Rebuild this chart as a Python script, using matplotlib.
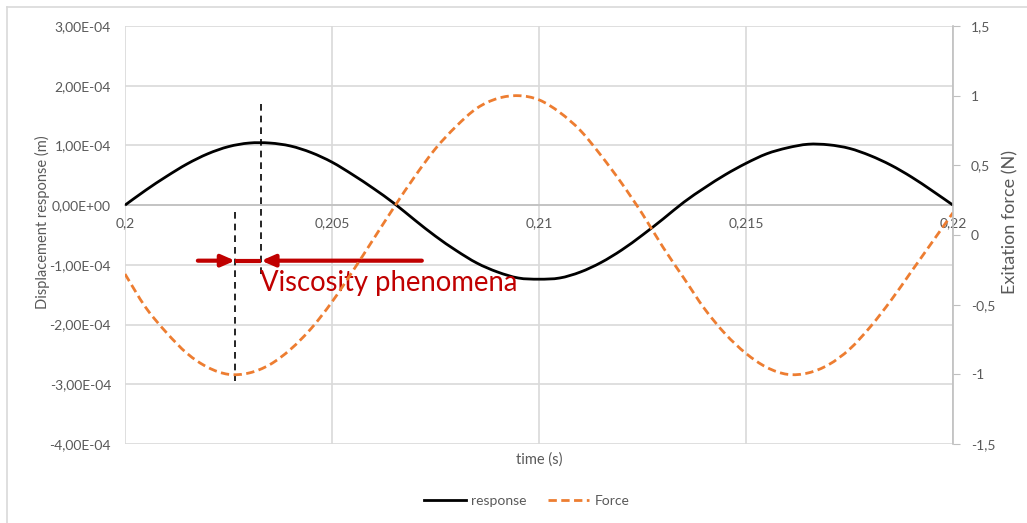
import numpy as np
import matplotlib.pyplot as plt
from matplotlib.lines import Line2D
from matplotlib.path import Path
from matplotlib.patches import PathPatch

plt.rcParams['font.family'] = ['Lato', 'DejaVu Sans']

# sampled every 0.5 ms between 0.2 s and 0.22 s
time = [0.2 + 0.0005 * k for k in range(41)]
response = [0.00, 0.25, 0.48, 0.69, 0.86, 0.98, 1.04, 1.04, 0.99, 0.88,
            0.72, 0.51, 0.28, 0.03, -0.25, -0.52, -0.76, -0.97, -1.12, -1.22,
            -1.24, -1.22, -1.12, -0.96, -0.75, -0.50, -0.23, 0.05, 0.29, 0.51,
            0.70, 0.86, 0.96, 1.02, 1.01, 0.95, 0.83, 0.67, 0.47, 0.24, 0.00]
response = [v * 1e-4 for v in response]  # m
force = [-0.28, -0.52, -0.70, -0.85, -0.95, -1.00, -0.99, -0.93, -0.82, -0.67,
         -0.48, -0.26, -0.03, 0.20, 0.42, 0.62, 0.78, 0.91, 0.98, 1.00,
         0.97, 0.88, 0.75, 0.57, 0.37, 0.15, -0.09, -0.31, -0.53, -0.71,
         -0.85, -0.95, -1.00, -0.99, -0.93, -0.82, -0.66, -0.47, -0.26, -0.05, 0.16]

x_ticks = [0.2, 0.205, 0.21, 0.215, 0.22]
x_labels = ['0,2', '0,205', '0,21', '0,215', '0,22']
y_ticks = [3e-4, 2e-4, 1e-4, 0, -1e-4, -2e-4, -3e-4, -4e-4]
y_labels = ['3,00E-04', '2,00E-04', '1,00E-04', '0,00E+00',
            '-1,00E-04', '-2,00E-04', '-3,00E-04', '-4,00E-04']
f_ticks = [1.5, 1, 0.5, 0, -0.5, -1, -1.5]
f_labels = ['1,5', '1', '0,5', '0', '-0,5', '-1', '-1,5']

# phase lag markers (time of force minimum / response maximum)
t_force_min = 0.20266
t_resp_max = 0.20329
arrow_y = -0.93e-4

GRID = '#d9d9d9'
TXT = '#595959'
RED = '#c00000'
ORANGE = '#ed7d31'


def smooth_line(ax, x, y, **kw):
    # smoothed line through the points (cubic Bezier, Catmull-Rom tangents)
    x = np.asarray(x, float)
    y = np.asarray(y, float)
    verts = [(x[0], y[0])]
    codes = [Path.MOVETO]
    n = len(x)
    for i in range(n - 1):
        x0, y0 = (x[i - 1], y[i - 1]) if i > 0 else (x[i], y[i])
        x3, y3 = (x[i + 2], y[i + 2]) if i + 2 < n else (x[i + 1], y[i + 1])
        c1 = (x[i] + (x[i + 1] - x0) / 6, y[i] + (y[i + 1] - y0) / 6)
        c2 = (x[i + 1] - (x3 - x[i]) / 6, y[i + 1] - (y3 - y[i]) / 6)
        verts += [c1, c2, (x[i + 1], y[i + 1])]
        codes += [Path.CURVE4] * 3
    patch = PathPatch(Path(verts, codes), facecolor='none', **kw)
    ax.add_patch(patch)
    return patch


fig = plt.figure(figsize=(10.27, 5.23), dpi=100)
ax = fig.add_axes([125 / 1027, 1 - 444 / 523, 828 / 1027, 418 / 523])
ax2 = ax.twinx()

ax.set_xlim(0.2, 0.22)
ax.set_ylim(-4e-4, 3e-4)
ax2.set_ylim(-1.5, 1.5)

ax.set_yticks(y_ticks)
ax.set_yticklabels(y_labels)
ax.set_xticks(x_ticks)
ax.set_xticklabels(x_labels)
ax2.set_yticks(f_ticks)
ax2.set_yticklabels(f_labels)

ax.grid(True, color=GRID, linewidth=1.2)
ax.set_axisbelow(True)
for s in ['top', 'right', 'left']:
    ax.spines[s].set_visible(False)
ax.spines['bottom'].set_position(('data', 0))
ax.spines['bottom'].set_color('#bfbfbf')
ax.spines['bottom'].set_linewidth(1.2)
ax.tick_params(axis='y', length=0, labelsize=10, labelcolor=TXT, pad=10)
ax.tick_params(axis='x', length=0, labelsize=10, labelcolor=TXT, pad=9)

for s in ['top', 'left', 'bottom']:
    ax2.spines[s].set_visible(False)
ax2.spines['right'].set_color('#bfbfbf')
ax2.spines['right'].set_linewidth(1.2)
ax2.tick_params(axis='y', length=5, color='#bfbfbf', labelsize=10,
                labelcolor=TXT, pad=8)

smooth_line(ax, time, response, edgecolor='black', linewidth=2, zorder=3)
smooth_line(ax2, time, force, edgecolor=ORANGE, linewidth=2,
            linestyle=(0, (3, 1.6)), capstyle='butt')

ax.set_xlabel('time (s)', fontsize=10.5, color=TXT)
ax.xaxis.set_label_coords(0.5, -0.02)
ax.set_ylabel('Displacement response (m)', fontsize=10.5, color=TXT)
ax.yaxis.set_label_coords(-0.0906, 0.531)
ax2.set_ylabel('Exitation force (N)', fontsize=13, color=TXT, rotation=90)
ax2.yaxis.set_label_coords(1.06, 0.53)

# dashed markers and arrows for the phase lag
ax.plot([t_force_min, t_force_min], [-0.12e-4, -2.95e-4], color='black',
        linestyle=(0, (4, 3)), linewidth=1.2, zorder=4)
ax.plot([t_resp_max, t_resp_max], [1.69e-4, -1.17e-4], color='black',
        linestyle=(0, (4, 3)), linewidth=1.2, zorder=4)
ax.plot([t_force_min, t_resp_max], [arrow_y, arrow_y], color=RED,
        linewidth=3, zorder=5, solid_capstyle='butt')
ax.annotate('', xy=(t_force_min, arrow_y), xytext=(0.20176, arrow_y),
            arrowprops=dict(arrowstyle='-|>,head_length=0.8,head_width=0.35',
                            color=RED, lw=3, shrinkA=0, shrinkB=0), zorder=5)
ax.annotate('', xy=(t_resp_max, arrow_y), xytext=(0.20717, arrow_y),
            arrowprops=dict(arrowstyle='-|>,head_length=0.8,head_width=0.35',
                            color=RED, lw=3, shrinkA=0, shrinkB=0), zorder=5)
ax.text(t_resp_max - 0.00002, -1.08e-4, 'Viscosity phenomena', color=RED,
        fontsize=19.8, ha='left', va='top', zorder=5)

handles = [Line2D([], [], color='black', linewidth=2),
           Line2D([], [], color=ORANGE, linewidth=2, linestyle=(0, (3, 1.6)))]
fig.legend(handles, ['response', 'Force'], loc='center',
           bbox_to_anchor=(0.513, 1 - 501 / 523), ncol=2, frameon=False,
           fontsize=10, labelcolor=TXT, handlelength=3.0, columnspacing=1.5,
           handletextpad=0.4)

# chart area border
fig.add_artist(Line2D([7 / 1027, 1], [1 - 7 / 523, 1 - 7 / 523],
                      color=GRID, linewidth=1.2))
fig.add_artist(Line2D([7 / 1027, 7 / 1027], [0, 1 - 7 / 523],
                      color=GRID, linewidth=1.2))

fig.savefig('out.png', dpi=100)
